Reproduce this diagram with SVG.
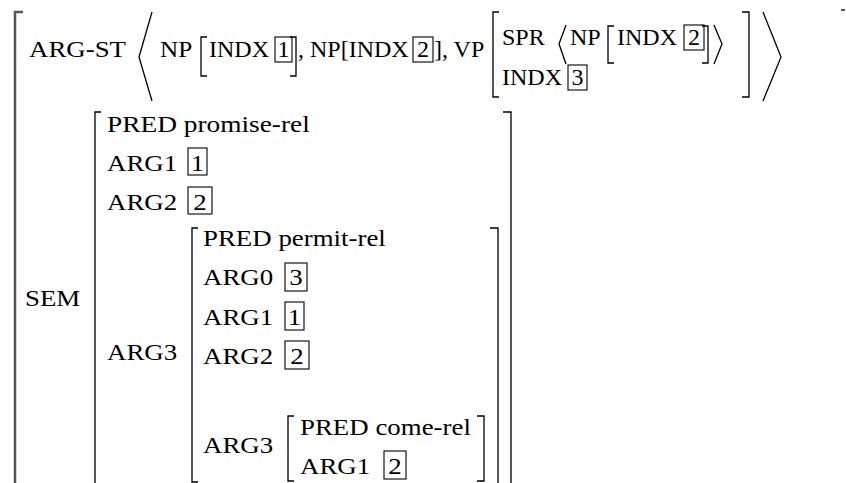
<svg xmlns="http://www.w3.org/2000/svg" width="846" height="483" viewBox="0 0 846 483">
<style>
.t{font-family:"Liberation Serif","Times New Roman",serif;font-size:24px;fill:#000}
.b{fill:none;stroke:#000;stroke-width:1.3}
.box{fill:none;stroke:#000;stroke-width:1.1}
.outer{fill:none;stroke:#555;stroke-width:2.5}
</style>
<rect width="846" height="483" fill="#fff"/>
<g id="outer">
<path class="outer" d="M23,12 H15 V483"/>
<path class="b" d="M841,10 H845"/>
</g>
<g id="argst">
<text class="t" transform="translate(29 57) scale(1.12 1)">ARG-ST</text>
<path class="b" d="M152,12 L139,57 L152,101"/>
<text class="t" transform="translate(160 57) scale(1.05 1)">NP</text>
<path class="b" d="M207,37 H201 V76 H207"/>
<text class="t" transform="translate(209 57)">INDX</text>
<rect class="box" x="275" y="37" width="17" height="25"/>
<text class="t" transform="translate(277.5 57)">1</text>
<path class="b" d="M290,37 H296 V76 H290"/>
<text class="t" transform="translate(298 57)">, NP[INDX</text>
<rect class="box" x="413" y="37" width="20" height="25"/>
<text class="t" transform="translate(417 57)">2</text>
<text class="t" transform="translate(434 57)">], VP</text>
<path class="b" d="M499,12 H493 V97 H499"/>
<text class="t" transform="translate(502 45)">SPR</text>
<path class="b" d="M566,25 L559,44 L566,64"/>
<text class="t" transform="translate(570 45)">NP</text>
<path class="b" d="M614,26 H608 V63 H614"/>
<text class="t" transform="translate(617 45)">INDX</text>
<rect class="box" x="684" y="25" width="20" height="25"/>
<text class="t" transform="translate(688 45)">2</text>
<path class="b" d="M702,26 H708 V63 H702"/>
<path class="b" d="M714,25 L722,44 L714,64"/>
<text class="t" transform="translate(502 85)">INDX</text>
<rect class="box" x="568" y="65" width="19" height="25"/>
<text class="t" transform="translate(571.5 85)">3</text>
<path class="b" d="M742,12 H749 V97 H742"/>
<path class="b" d="M763,12 L781,57 L763,101"/>
</g>
<g id="sem">
<text class="t" transform="translate(25 306) scale(1.12 1)">SEM</text>
<path class="b" d="M101,112 H95 V483"/>
<path class="b" d="M503,112 H511 V483"/>
<text class="t" transform="translate(107 132) scale(1.14 1)">PRED promise-rel</text>
<text class="t" transform="translate(107 171) scale(1.12 1)">ARG1</text>
<rect class="box" x="188" y="148" width="19" height="27"/>
<text class="t" transform="translate(190.8 171) scale(1.12 1)">1</text>
<text class="t" transform="translate(107 210) scale(1.12 1)">ARG2</text>
<rect class="box" x="188" y="187" width="24" height="27"/>
<text class="t" transform="translate(193.3 210) scale(1.12 1)">2</text>
<text class="t" transform="translate(107 360) scale(1.12 1)">ARG3</text>
</g>
<g id="permit">
<path class="b" d="M198,228 H192 V482 H198"/>
<path class="b" d="M490,228 H498 V483"/>
<text class="t" transform="translate(203 246) scale(1.12 1)">PRED permit-rel</text>
<text class="t" transform="translate(203 285) scale(1.12 1)">ARG0</text>
<rect class="box" x="285" y="263" width="22" height="28"/>
<text class="t" transform="translate(289.3 285) scale(1.12 1)">3</text>
<text class="t" transform="translate(203 325) scale(1.12 1)">ARG1</text>
<rect class="box" x="285" y="302" width="19" height="28"/>
<text class="t" transform="translate(287.8 325) scale(1.12 1)">1</text>
<text class="t" transform="translate(203 364) scale(1.12 1)">ARG2</text>
<rect class="box" x="285" y="341" width="24" height="28"/>
<text class="t" transform="translate(290.3 364) scale(1.12 1)">2</text>
<text class="t" transform="translate(203 453) scale(1.12 1)">ARG3</text>
</g>
<g id="come">
<path class="b" d="M294,416 H288 V481 H294"/>
<path class="b" d="M477,416 H484 V481 H477"/>
<text class="t" transform="translate(300 435) scale(1.12 1)">PRED come-rel</text>
<text class="t" transform="translate(300 474) scale(1.12 1)">ARG1</text>
<rect class="box" x="384" y="451" width="22" height="28"/>
<text class="t" transform="translate(388.3 474) scale(1.12 1)">2</text>
</g>
</svg>
